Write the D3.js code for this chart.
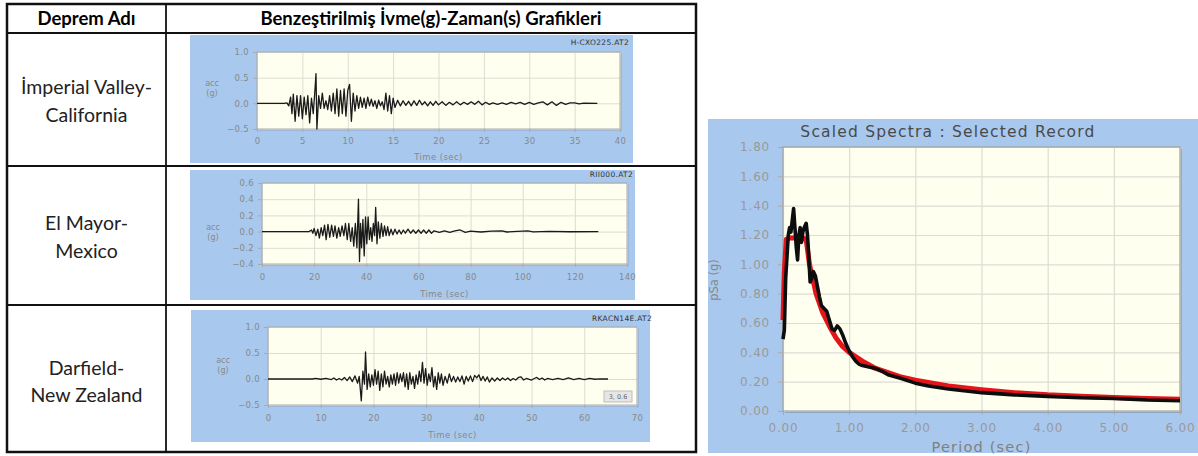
<!DOCTYPE html>
<html><head><meta charset="utf-8">
<script src="https://cdn.jsdelivr.net/npm/d3@7/dist/d3.min.js"></script>
<style>body{margin:0;background:#fff}svg{display:block}</style>
</head><body><svg id="c" width="1198" height="456"></svg>
<script>
// ---------- DATA ----------
const headerLabels = ["Deprem Adı", "Benzeştirilmiş İvme(g)-Zaman(s) Grafikleri"];
const eqNames = [["İmperial Valley-", "California"], ["El Mayor-", "Mexico"], ["Darfield-", "New Zealand"]];
const recordTitles = ["H-CXO225.AT2", "RII000.AT2", "RKACN14E.AT2"];

const acc1Time = [0,3.0,3.3,3.5,3.7,3.85,4.0,4.2,4.4,4.6,4.8,5.0,5.2,5.4,5.6,5.8,6.0,6.2,6.4,6.5,6.6,6.8,7.0,7.2,7.4,7.6,7.8,8.0,8.2,8.4,8.6,8.8,9.0,9.2,9.4,9.6,9.8,10.0,10.2,10.4,10.6,10.8,11.0,11.2,11.4,11.6,11.8,12.0,12.2,12.4,12.6,12.8,13.0,13.2,13.4,13.6,13.8,14.0,14.2,14.4,14.6,14.8,15.0,15.2,15.5,15.8,16.1,16.4,16.7,17.0,17.3,17.6,17.9,18.2,18.5,18.8,19.1,19.4,19.7,20.0,20.4,20.8,21.2,21.6,22.0,22.4,22.8,23.2,23.6,24.0,24.4,24.8,25.2,25.6,26.0,26.5,27.0,27.5,28.0,28.5,29.0,29.5,30.0,30.5,31.0,31.5,32.0,32.5,33.0,33.5,34.0,34.5,35.0,35.5,36.0,37.5];
const acc1Val = [0,0,0.01,-0.05,0.12,-0.2,0.18,-0.35,0.15,-0.25,0.15,-0.3,0.12,-0.22,0.15,-0.38,0.1,-0.2,0.3,0.58,-0.5,0.15,-0.1,0.2,-0.1,0.05,-0.12,0.15,-0.15,0.2,-0.2,0.28,-0.25,0.25,-0.2,0.28,-0.25,0.25,0.37,-0.35,0.2,-0.15,0.15,-0.1,0.12,-0.08,0.1,-0.1,0.12,-0.05,0.08,-0.06,0.05,-0.1,0.06,-0.05,0.03,-0.12,0.2,-0.15,0.15,-0.2,0.1,-0.08,0.06,-0.05,0.05,-0.04,0.04,-0.05,0.05,-0.04,0.06,-0.03,0.03,-0.05,0.03,-0.04,0.04,-0.03,0.03,-0.04,0.02,-0.03,0.03,-0.03,0.02,-0.02,0.03,-0.02,0.04,-0.03,0.02,-0.02,0.01,-0.02,0.01,-0.02,0.02,-0.01,0.02,-0.02,0.02,-0.02,0.01,0.03,-0.03,0.03,-0.04,0.02,-0.02,0.01,0.01,-0.01,0.005,0];

const acc2Time = [0,18,19,19.5,20,20.7,21.4,22,22.7,23.3,24,24.6,25.3,26,26.7,27.4,28,28.7,29.4,30,30.7,31.4,32,32.7,33.3,34,34.6,35.2,35.8,36.4,37,37.4,37.8,38.2,38.7,39.2,39.7,40.2,40.7,41.2,41.7,42.2,42.7,43.2,43.6,44.1,44.6,45.2,45.8,46.4,47,47.6,48.2,48.8,49.5,50.2,51,51.8,52.6,53.4,54.2,55,56,57,58,59,60,61,62,63,64,65,66,68,70,72,74,76,78,80,84,88,92,94,98,102,104,110,118,129];
const acc2Val = [0,0,0.02,-0.02,0.04,-0.05,0.03,-0.08,0.05,-0.05,0.08,-0.1,0.09,-0.07,0.08,-0.06,0.07,-0.08,0.05,-0.06,0.07,-0.05,0.1,-0.1,0.1,-0.12,0.05,-0.18,0.1,-0.2,0.4,-0.37,0.1,-0.2,0.15,-0.3,0.18,-0.15,0.18,-0.1,0.05,-0.12,0.1,-0.05,0.3,-0.15,0.12,-0.08,0.1,-0.06,0.07,-0.05,0.06,-0.05,0.03,-0.04,0.03,-0.03,0.02,-0.03,0.02,-0.02,0.03,-0.02,0.02,-0.02,0.02,-0.02,0.02,-0.02,0.02,-0.02,0.01,-0.01,0.01,-0.01,0.01,0.02,-0.01,0.005,-0.005,0.005,0.01,-0.005,0.003,0.008,-0.003,0.002,-0.002,0];

const acc3Time = [0,8.5,9,10,11,12,12.5,13,13.5,14,14.5,15,15.5,16,16.5,17,17.3,17.7,18,18.3,18.5,18.8,19.1,19.4,19.7,20,20.3,20.6,20.9,21.2,21.5,21.8,22.1,22.4,22.7,23,23.3,23.6,23.9,24.2,24.5,24.8,25.1,25.4,25.7,26,26.3,26.6,26.9,27.2,27.5,27.8,28.1,28.4,28.7,29,29.3,29.6,29.9,30.2,30.5,30.8,31.1,31.4,31.7,32,32.3,32.6,32.9,33.2,33.6,34,34.4,34.8,35.2,35.6,36,36.4,36.8,37.2,37.6,38,38.4,38.8,39.2,39.6,40,40.4,40.8,41.2,41.6,42,42.5,43,43.5,44,44.5,45,45.5,46,46.5,47,47.5,48,48.5,49,50,50.5,51,51.5,52,52.5,53,54,55,56,57,58,59,60,61,62,63,64.5];
const acc3Val = [0,0,0.01,-0.005,0.01,-0.01,0.02,-0.02,0.01,-0.02,0.03,-0.03,0.04,-0.05,0.06,-0.08,0.05,-0.42,0.15,-0.1,0.52,-0.2,0.1,-0.15,0.08,-0.12,0.18,-0.1,0.15,-0.22,0.1,-0.15,0.15,-0.1,0.05,-0.15,0.08,-0.1,0.1,-0.12,0.12,-0.08,0.1,-0.05,0.12,-0.15,0.1,-0.2,0.12,-0.1,0.05,-0.18,0.08,-0.1,0.15,-0.05,0.32,-0.08,0.2,-0.12,0.1,-0.05,0.22,-0.15,0.05,-0.2,0.12,-0.08,0.1,-0.12,0.05,-0.08,0.1,-0.05,0.05,-0.06,0.04,-0.05,0.06,-0.1,0.05,-0.04,0.06,-0.05,0.07,0.02,0.08,-0.03,0.05,-0.04,0.04,-0.06,0.02,-0.04,0.02,-0.03,0.02,-0.02,0.02,-0.03,0.01,-0.02,0.03,0.04,-0.02,0.01,-0.02,0.01,0.03,-0.01,0.02,-0.02,0.01,-0.01,0.01,-0.01,0.02,-0.01,0.01,-0.01,0.01,-0.005,0.003,0];

const acc1XTicks = [0,5,10,15,20,25,30,35,40];
const acc1YTicks = [-0.5,0,0.5,1.0];
const acc2XTicks = [0,20,40,60,80,100,120,140];
const acc2YTicks = [-0.4,-0.2,0,0.2,0.4,0.6];
const acc3XTicks = [0,10,20,30,40,50,60,70];
const acc3YTicks = [-0.5,0,0.5,1.0];
const cursorLabel = "3, 0.6";

const specTitle = "Scaled Spectra : Selected Record";
const specXLabel = "Period (sec)";
const specYLabel = "pSa (g)";
const specXTicks = [0,1,2,3,4,5,6];
const specYTicks = [0,0.2,0.4,0.6,0.8,1.0,1.2,1.4,1.6,1.8];
const targetPeriod = [0,0.02,0.05,0.1,0.2,0.3,0.35,0.4,0.45,0.5,0.6,0.7,0.8,0.9,1.0,1.2,1.4,1.6,1.8,2.0,2.5,3.0,3.5,4.0,4.5,5.0,5.5,6.0];
const targetSa = [0.62,0.95,1.17,1.18,1.18,1.18,1.17,1.0,0.9,0.8,0.67,0.58,0.5,0.44,0.4,0.34,0.29,0.26,0.23,0.21,0.17,0.145,0.125,0.11,0.1,0.092,0.085,0.08];
const recordPeriod = [0,0.02,0.04,0.06,0.08,0.1,0.12,0.14,0.16,0.18,0.2,0.22,0.24,0.26,0.28,0.3,0.32,0.35,0.37,0.39,0.41,0.43,0.46,0.49,0.52,0.55,0.58,0.62,0.66,0.7,0.74,0.78,0.82,0.86,0.9,0.95,1.0,1.05,1.1,1.15,1.2,1.3,1.4,1.5,1.6,1.8,2.0,2.2,2.5,3.0,3.5,4.0,4.5,5.0,5.5,6.0];
const recordSa = [0.49,0.55,0.9,1.05,1.2,1.25,1.22,1.3,1.38,1.25,1.12,1.03,1.2,1.25,1.15,1.22,1.25,1.28,1.2,1.05,0.88,0.9,0.95,0.92,0.85,0.78,0.72,0.7,0.68,0.62,0.56,0.55,0.58,0.56,0.52,0.46,0.41,0.37,0.34,0.32,0.31,0.3,0.29,0.27,0.245,0.22,0.19,0.17,0.15,0.125,0.11,0.1,0.09,0.085,0.075,0.07];

// ---------- DRAW ----------
const svg = d3.select("#c");
const BLUE = "#a9c8ee", CREAM = "#fffff0", GRID = "#dcdcd4";

// Table
const tbl = svg.append("g");
const tl = 7, tr = 696, tt = 4, tb = 452, colX = 166, rowY = [33, 166, 305];
tbl.append("rect").attr("x", tl).attr("y", tt).attr("width", tr - tl).attr("height", tb - tt)
  .attr("fill", "none").attr("stroke", "#111").attr("stroke-width", 2.5);
tbl.append("line").attr("x1", colX).attr("x2", colX).attr("y1", tt).attr("y2", tb).attr("stroke", "#111").attr("stroke-width", 1.8);
rowY.forEach(y => tbl.append("line").attr("x1", tl).attr("x2", tr).attr("y1", y).attr("y2", y).attr("stroke", "#111").attr("stroke-width", 1.8));
const FONT_T = "Lato, 'Open Sans', sans-serif";
tbl.append("text").attr("x", (tl + colX) / 2).attr("y", 25).attr("text-anchor", "middle")
  .attr("font-family", FONT_T).attr("font-weight", "bold").attr("font-size", 18.5).attr("fill", "#000").text(headerLabels[0]);
tbl.append("text").attr("x", (colX + tr) / 2).attr("y", 25).attr("text-anchor", "middle")
  .attr("font-family", FONT_T).attr("font-weight", "bold").attr("font-size", 18.5).attr("fill", "#000").text(headerLabels[1]);
const nameY = [[94, 122], [230, 258], [375, 402]];
eqNames.forEach((lines, i) => {
  lines.forEach((s, j) => tbl.append("text").attr("x", (tl + colX) / 2).attr("y", nameY[i][j]).attr("text-anchor", "middle")
    .attr("font-family", FONT_T).attr("font-size", 19.5).attr("fill", "#222").text(s));
});

// Accelerogram panels
const FONT_C = "'DejaVu Sans', Verdana, sans-serif";
function accChart(cfg) {
  const g = svg.append("g");
  g.append("rect").attr("x", cfg.panel[0]).attr("y", cfg.panel[1]).attr("width", cfg.panel[2] - cfg.panel[0])
    .attr("height", cfg.panel[3] - cfg.panel[1]).attr("fill", BLUE);
  const [L, T, R, B] = cfg.plot;
  const x = d3.scaleLinear().domain(d3.extent(cfg.xTicks)).range([L, R]);
  const y = d3.scaleLinear().domain(d3.extent(cfg.yTicks)).range([B, T]);
  g.append("rect").attr("x", L + 1.5).attr("y", T + 1.5).attr("width", R - L).attr("height", B - T).attr("fill", "#8fa6c4");
  g.append("rect").attr("x", L).attr("y", T).attr("width", R - L).attr("height", B - T).attr("fill", CREAM);
  g.append("g").attr("transform", `translate(0,${B})`)
    .call(d3.axisBottom(x).tickValues(cfg.xTicks).tickSize(-(B - T)).tickFormat(""))
    .call(a => { a.select(".domain").remove(); a.selectAll("line").attr("stroke", GRID).attr("stroke-width", 1); });
  g.append("g").attr("transform", `translate(${L},0)`)
    .call(d3.axisLeft(y).tickValues(cfg.yTicks).tickSize(-(R - L)).tickFormat(""))
    .call(a => { a.select(".domain").remove(); a.selectAll("line").attr("stroke", GRID).attr("stroke-width", 1); });
  g.append("g").attr("transform", `translate(0,${B})`)
    .call(d3.axisBottom(x).tickValues(cfg.xTicks).tickSize(3).tickPadding(cfg.xPad).tickFormat(d3.format("d")))
    .call(a => { a.select(".domain").remove(); a.selectAll("line").attr("stroke", "#aaa");
      a.selectAll("text").attr("font-family", FONT_C).attr("font-size", 8.5).attr("letter-spacing", 0.3).attr("fill", "#888"); });
  g.append("g").attr("transform", `translate(${L},0)`)
    .call(d3.axisLeft(y).tickValues(cfg.yTicks).tickSize(4).tickPadding(4).tickFormat(d3.format(".1f")))
    .call(a => { a.select(".domain").remove(); a.selectAll("line").attr("stroke", "#aaa");
      a.selectAll("text").attr("font-family", FONT_C).attr("font-size", 8.5).attr("letter-spacing", 0.3).attr("fill", "#888"); });
  g.append("rect").attr("x", L).attr("y", T).attr("width", R - L).attr("height", B - T)
    .attr("fill", "none").attr("stroke", "#a9a9a9").attr("stroke-width", 1);
  const pts = cfg.t.map((t, i) => [t, cfg.v[i]]);
  g.append("path").datum(pts).attr("fill", "none").attr("stroke", "#1a1a1a").attr("stroke-width", 1.3)
    .attr("stroke-linejoin", "round")
    .attr("d", d3.line().x(d => x(d[0])).y(d => y(d[1])));
  g.append("text").attr("x", (L + R) / 2).attr("y", cfg.xLabelY).attr("text-anchor", "middle")
    .attr("font-family", FONT_C).attr("font-size", 8.5).attr("letter-spacing", 0.4).attr("fill", "#888").text("Time (sec)");
  g.append("text").attr("x", cfg.accX).attr("y", cfg.accY).attr("text-anchor", "middle")
    .attr("font-family", FONT_C).attr("font-size", 8).attr("fill", "#888").text("acc");
  g.append("text").attr("x", cfg.accX).attr("y", cfg.accY + 10).attr("text-anchor", "middle")
    .attr("font-family", FONT_C).attr("font-size", 8).attr("fill", "#888").text("(g)");
  g.append("text").attr("x", cfg.titleX).attr("y", cfg.titleY).attr("text-anchor", "end")
    .attr("font-family", FONT_C).attr("font-size", 7.5).attr("letter-spacing", 0.3).attr("fill", "#333").text(cfg.title);
  return { g, x, y };
}

accChart({ panel: [190, 35, 633, 163], plot: [257, 52, 620, 129], xTicks: acc1XTicks, yTicks: acc1YTicks,
  t: acc1Time, v: acc1Val, xPad: 6, xLabelY: 160, accX: 212, accY: 86, titleX: 629, titleY: 45, title: recordTitles[0] });
accChart({ panel: [190, 170, 635, 300], plot: [262, 183, 627, 264], xTicks: acc2XTicks, yTicks: acc2YTicks,
  t: acc2Time, v: acc2Val, xPad: 7, xLabelY: 297, accX: 213, accY: 230, titleX: 633, titleY: 177, title: recordTitles[1] });
const c3 = accChart({ panel: [191, 310, 650, 442], plot: [268, 327, 637, 405], xTicks: acc3XTicks, yTicks: acc3YTicks,
  t: acc3Time, v: acc3Val, xPad: 7, xLabelY: 438, accX: 223, accY: 363, titleX: 652, titleY: 321, title: recordTitles[2] });
c3.g.append("rect").attr("x", 604).attr("y", 391).attr("width", 28).attr("height", 11).attr("fill", "#e6e6e6").attr("stroke", "#bdbdbd");
c3.g.append("text").attr("x", 618).attr("y", 399).attr("text-anchor", "middle").attr("font-family", FONT_C)
  .attr("font-size", 6.5).attr("fill", "#666").text(cursorLabel);

// Spectrum panel
const sp = svg.append("g");
sp.append("rect").attr("x", 708).attr("y", 119).attr("width", 1198 - 708).attr("height", 453 - 119).attr("fill", BLUE);
const SL = 783, ST = 147, SR = 1180, SB = 411;
const sx = d3.scaleLinear().domain(d3.extent(specXTicks)).range([SL, SR]);
const sy = d3.scaleLinear().domain(d3.extent(specYTicks)).range([SB, ST]);
sp.append("rect").attr("x", SL + 2).attr("y", ST + 2).attr("width", SR - SL).attr("height", SB - ST).attr("fill", "#8fa6c4");
sp.append("rect").attr("x", SL).attr("y", ST).attr("width", SR - SL).attr("height", SB - ST).attr("fill", CREAM);
sp.append("g").attr("transform", `translate(0,${SB})`)
  .call(d3.axisBottom(sx).tickValues(specXTicks).tickSize(-(SB - ST)).tickFormat(""))
  .call(a => { a.select(".domain").remove(); a.selectAll("line").attr("stroke", GRID).attr("stroke-width", 1.2); });
sp.append("g").attr("transform", `translate(${SL},0)`)
  .call(d3.axisLeft(sy).tickValues(specYTicks).tickSize(-(SR - SL)).tickFormat(""))
  .call(a => { a.select(".domain").remove(); a.selectAll("line").attr("stroke", GRID).attr("stroke-width", 1.2); });
sp.append("g").attr("transform", `translate(0,${SB})`)
  .call(d3.axisBottom(sx).tickValues(specXTicks).tickSize(4).tickPadding(8).tickFormat(d3.format(".2f")))
  .call(a => { a.select(".domain").remove(); a.selectAll("line").attr("stroke", "#aaa");
    a.selectAll("text").attr("font-family", FONT_C).attr("font-size", 12).attr("letter-spacing", 0.8).attr("fill", "#999"); });
sp.append("g").attr("transform", `translate(${SL},0)`)
  .call(d3.axisLeft(sy).tickValues(specYTicks).tickSize(5).tickPadding(8).tickFormat(d3.format(".2f")))
  .call(a => { a.select(".domain").remove(); a.selectAll("line").attr("stroke", "#aaa");
    a.selectAll("text").attr("font-family", FONT_C).attr("font-size", 12).attr("letter-spacing", 0.8).attr("fill", "#999"); });
sp.append("rect").attr("x", SL).attr("y", ST).attr("width", SR - SL).attr("height", SB - ST)
  .attr("fill", "none").attr("stroke", "#a0a0a0").attr("stroke-width", 1.2);
const sline = d3.line().x(d => sx(d[0])).y(d => sy(d[1]));
sp.append("path").datum(targetPeriod.map((p, i) => [p, targetSa[i]])).attr("fill", "none")
  .attr("stroke", "#e5141b").attr("stroke-width", 5).attr("stroke-linejoin", "round").attr("d", sline);
sp.append("path").datum(recordPeriod.map((p, i) => [p, recordSa[i]])).attr("fill", "none")
  .attr("stroke", "#0d0d0d").attr("stroke-width", 3.6).attr("stroke-linejoin", "round").attr("d", sline);
sp.append("text").attr("x", 948).attr("y", 137).attr("text-anchor", "middle").attr("font-family", FONT_C)
  .attr("font-size", 15.5).attr("letter-spacing", 1.2).attr("fill", "#4a4a4a").text(specTitle);
sp.append("text").attr("x", (SL + SR) / 2).attr("y", 452).attr("text-anchor", "middle").attr("font-family", FONT_C)
  .attr("font-size", 14.5).attr("letter-spacing", 1.2).attr("fill", "#808080").text(specXLabel);
sp.append("text").attr("transform", `translate(718,280) rotate(-90)`).attr("text-anchor", "middle").attr("font-family", FONT_C)
  .attr("font-size", 11.5).attr("fill", "#888").text(specYLabel);
</script></body></html>
